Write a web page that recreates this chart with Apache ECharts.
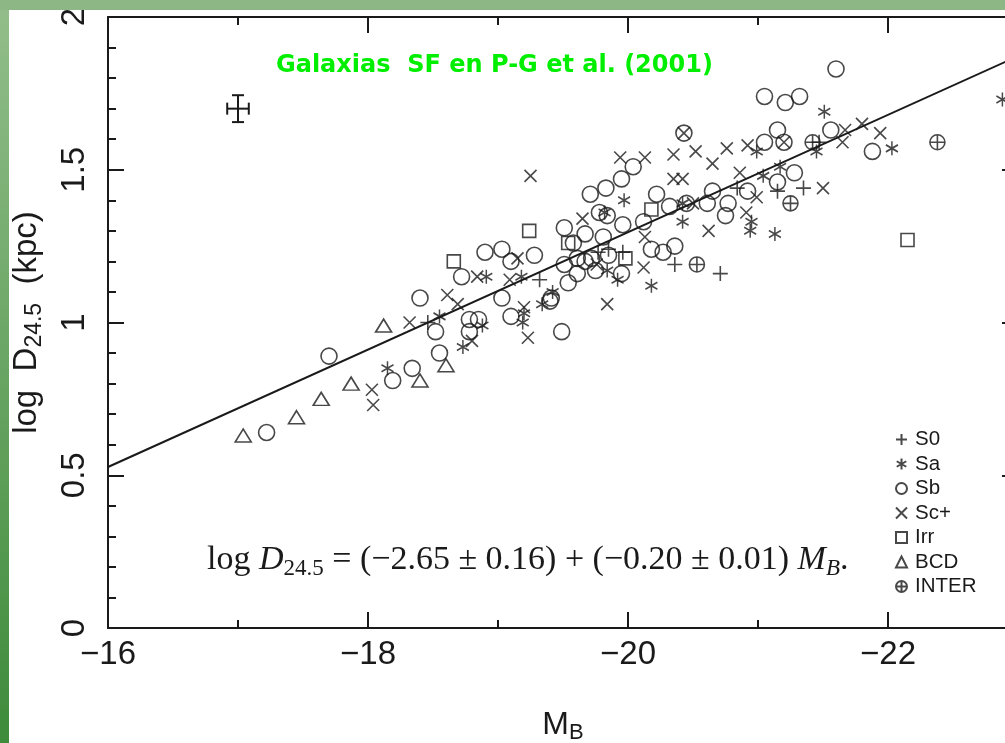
<!DOCTYPE html>
<html>
<head>
<meta charset="utf-8">
<script src="https://cdn.jsdelivr.net/npm/echarts@6/dist/echarts.min.js"></script>
<style>
  html, body { margin: 0; padding: 0; background: #fff; }
  #main { width: 1005px; height: 743px; }
</style>
</head>
<body>
<div id="main"></div>
<script>
// data: [M_B, log D24.5]
const S0 = [[-18.46,1.00],[-19.32,1.14],[-19.77,1.23],[-19.85,1.24],[-19.96,1.23],[-20.36,1.19],
  [-20.71,1.16],[-21.15,1.43],[-21.35,1.44],[-21.47,1.59],[-20.84,1.44]];
const Sa = [[-18.15,0.85],[-18.55,1.02],[-18.73,0.92],[-18.91,1.15],[-18.88,0.99],[-19.18,1.15],
  [-19.20,1.03],[-19.19,1.00],[-19.34,1.06],[-19.42,1.10],[-19.97,1.40],[-19.82,1.36],[-20.42,1.39],
  [-20.42,1.33],[-20.18,1.12],[-19.92,1.14],[-19.84,1.17],[-20.99,1.56],[-21.04,1.48],[-21.17,1.51],
  [-20.95,1.33],[-20.94,1.30],[-21.13,1.29],[-21.51,1.69],[-21.45,1.56],[-22.03,1.57],[-22.88,1.73]];
const Sb = [[-17.22,0.64],[-17.70,0.89],[-18.19,0.81],[-18.34,0.85],[-18.52,0.97],[-18.55,0.90],
  [-18.40,1.08],[-18.72,1.15],[-18.90,1.23],[-19.03,1.24],[-19.28,1.22],[-19.10,1.20],[-19.03,1.08],
  [-18.78,1.01],[-18.85,1.01],[-18.78,0.97],[-19.10,1.02],[-19.41,1.08],[-19.49,0.97],[-19.54,1.13],
  [-19.51,1.19],[-19.51,1.31],[-19.58,1.26],[-19.67,1.29],[-19.71,1.42],[-19.83,1.44],[-19.95,1.47],
  [-20.04,1.51],[-20.43,1.62],[-20.22,1.42],[-20.32,1.38],[-19.78,1.36],[-19.84,1.35],[-19.96,1.32],
  [-20.12,1.33],[-19.81,1.28],[-19.61,1.21],[-19.67,1.20],[-19.72,1.21],[-19.85,1.22],[-20.18,1.24],
  [-20.27,1.23],[-20.36,1.25],[-19.95,1.16],[-19.61,1.16],[-19.75,1.17],[-19.40,1.07],[-21.60,1.83],
  [-21.05,1.74],[-21.21,1.72],[-21.32,1.74],[-21.15,1.63],[-21.20,1.59],[-21.05,1.59],[-21.56,1.63],
  [-21.28,1.49],[-21.15,1.46],[-20.92,1.43],[-20.65,1.43],[-20.75,1.35],[-20.77,1.39],[-20.61,1.39],
  [-21.88,1.56],[-20.45,1.39]];
const ScPlus = [[-18.32,1.00],[-18.03,0.78],[-18.04,0.73],[-19.25,1.48],[-18.84,1.15],[-19.15,1.21],
  [-19.09,1.14],[-18.61,1.09],[-18.69,1.06],[-18.80,0.94],[-19.20,1.05],[-19.23,0.95],[-19.65,1.34],
  [-19.94,1.54],[-20.13,1.54],[-20.35,1.55],[-20.52,1.56],[-20.35,1.47],[-20.42,1.47],[-20.43,1.62],
  [-20.13,1.28],[-20.12,1.18],[-19.84,1.06],[-21.20,1.59],[-20.92,1.58],[-20.76,1.57],[-20.65,1.52],
  [-20.86,1.49],[-21.50,1.44],[-20.99,1.41],[-20.62,1.30],[-20.91,1.36],[-20.50,1.39],[-21.67,1.63],
  [-21.65,1.59],[-21.80,1.65],[-21.94,1.62],[-19.76,1.19]];
const Irr = [[-19.24,1.30],[-18.66,1.20],[-19.54,1.26],[-19.98,1.21],[-20.18,1.37],[-22.15,1.27]];
const BCD = [[-17.04,0.63],[-17.45,0.69],[-17.64,0.75],[-17.87,0.80],[-18.12,0.99],[-18.40,0.81],[-18.60,0.86]];
const INTER = [[-20.53,1.19],[-21.25,1.39],[-21.42,1.59],[-22.38,1.59]];

// fitted line ends and the typical error bar [M, logD, dM, dlogD]
const fitLine = [[-16,0.527],[-23,1.872]];
const errBar = [[-17.0,1.70,0.083,0.044]];

const xMajor = [-16,-18,-20,-22];
const xMinor = [-17,-19,-21];

const ink = '#1a1a1a';
const sans = 'Liberation Sans, Arial, sans-serif';
const serif = 'Liberation Serif, serif';

const symPlus = 'path://M0,5L10,5M5,0L5,10';
const symCross = 'path://M0,0L10,10M10,0L0,10';
const symStar = 'path://M5,0L5,10M0.67,2.5L9.33,7.5M0.67,7.5L9.33,2.5';
const symOplus = 'path://M0,5A5,5 0 1,1 10,5A5,5 0 1,1 0,5ZM0,5L10,5M5,0L5,10';

function pts(name, data, symbol, size) {
  return {
    name: name,
    type: 'scatter',
    data: data,
    symbol: symbol,
    symbolSize: size,
    itemStyle: { color: 'rgba(0,0,0,0)', borderColor: ink, borderWidth: 1.6 },
    emphasis: { disabled: true },
    z: 3
  };
}

function xAx(pos, vals, len, label, line) {
  return {
    type: 'value', position: pos, min: -23, max: -16, inverse: true,
    axisLine: { show: line, onZero: false, lineStyle: { color: ink, width: 2 } },
    axisTick: { show: true, inside: true, length: len, customValues: vals, lineStyle: { color: ink, width: 2 } },
    axisLabel: label ? {
      show: true, customValues: vals, margin: 10, color: ink, fontSize: 33, fontFamily: sans,
      formatter: function (v) { return String(v).replace('-', '\u2212'); }
    } : { show: false },
    splitLine: { show: false }
  };
}

var chart = echarts.init(document.getElementById('main'));
var option = {
  backgroundColor: '#fff',
  animation: false,
  grid: { left: 108, top: 17, right: -13, bottom: 115, containLabel: false, outerBoundsMode: 'none' },
  title: [
    {
      text: 'Galaxias  SF en P-G et al. (2001)',
      left: 271, top: 49,
      textStyle: { color: '#00ee00', fontSize: 24, fontWeight: 'bold', fontFamily: 'DejaVu Sans' }
    },
    {
      text: '{n|log }{i|D}{s|24.5}{n| = (\u22122.65 \u00b1 0.16) + (\u22120.20 \u00b1 0.01) }{i|M}{si|B}{n|.}',
      left: 202, top: 536,
      textStyle: {
        fontWeight: 'normal',
        rich: {
          n: { fontSize: 34, fontFamily: serif, fontWeight: 'normal', color: ink },
          i: { fontSize: 34, fontFamily: serif, fontWeight: 'normal', fontStyle: 'italic', color: ink },
          s: { fontSize: 23, fontFamily: serif, fontWeight: 'normal', color: ink, padding: [16, 0, 0, 0] },
          si: { fontSize: 23, fontFamily: serif, fontWeight: 'normal', fontStyle: 'italic', color: ink, padding: [16, 0, 0, 0] }
        }
      }
    }
  ],
  legend: {
    orient: 'vertical', left: 895, top: 429, padding: 0,
    itemWidth: 11, itemHeight: 11, itemGap: 3.5,
    data: ['S0', 'Sa', 'Sb', 'Sc+', 'Irr', 'BCD', 'INTER'],
    textStyle: { color: ink, fontSize: 20.5, fontFamily: sans, lineHeight: 19, padding: [0, 0, 0, 3] }
  },
  xAxis: [
    Object.assign(xAx('bottom', xMajor, 16, true, true), {
      name: '{a|M}{s|B}', nameLocation: 'middle', nameGap: 78,
      nameTextStyle: { rich: {
        a: { fontSize: 32, fontFamily: sans, color: ink },
        s: { fontSize: 22, fontFamily: sans, color: ink, padding: [16, 0, 0, 0] }
      } }
    }),
    xAx('bottom', xMinor, 8, false, false),
    xAx('top', xMajor, 16, false, true),
    xAx('top', xMinor, 8, false, false)
  ],
  yAxis: [
    {
      type: 'value', position: 'left', min: 0, max: 2, interval: 0.5,
      axisLine: { show: true, lineStyle: { color: ink, width: 2 } },
      axisTick: { show: true, inside: true, length: 16, lineStyle: { color: ink, width: 2 } },
      minorTick: { show: true, splitNumber: 5, length: 8, lineStyle: { color: ink, width: 2 } },
      axisLabel: { rotate: 90, margin: 17, color: ink, fontSize: 33, fontFamily: sans },
      splitLine: { show: false },
      name: '{a|log  D}{s|24.5}{a|  (kpc)}', nameLocation: 'middle', nameGap: 62, nameRotate: 90,
      nameTextStyle: { rich: {
        a: { fontSize: 33, fontFamily: sans, color: ink },
        s: { fontSize: 23, fontFamily: sans, color: ink, padding: [16, 0, 0, 0] }
      } }
    },
    {
      type: 'value', position: 'right', min: 0, max: 2, interval: 0.5,
      axisLine: { show: true, lineStyle: { color: ink, width: 2 } },
      axisTick: { show: true, inside: true, length: 16, lineStyle: { color: ink, width: 2 } },
      minorTick: { show: true, splitNumber: 5, length: 8, lineStyle: { color: ink, width: 2 } },
      axisLabel: { show: false },
      splitLine: { show: false }
    }
  ],
  series: [
    {
      type: 'line', data: fitLine, symbol: 'none', silent: true,
      lineStyle: { color: ink, width: 2 }, z: 2
    },
    {
      type: 'custom', data: errBar, silent: true,
      renderItem: function (params, api) {
        var x = api.value(0), y = api.value(1), dx = api.value(2), dy = api.value(3);
        var l = api.coord([x - dx, y]), r = api.coord([x + dx, y]);
        var t = api.coord([x, y + dy]), b = api.coord([x, y - dy]);
        var cap = 6;
        var st = { stroke: ink, lineWidth: 2 };
        function seg(x1, y1, x2, y2) {
          return { type: 'line', shape: { x1: x1, y1: y1, x2: x2, y2: y2 }, style: st };
        }
        return { type: 'group', children: [
          seg(l[0], l[1], r[0], r[1]),
          seg(t[0], t[1], b[0], b[1]),
          seg(l[0], l[1] - cap, l[0], l[1] + cap),
          seg(r[0], r[1] - cap, r[0], r[1] + cap),
          seg(t[0] - cap, t[1], t[0] + cap, t[1]),
          seg(b[0] - cap, b[1], b[0] + cap, b[1])
        ] };
      }
    },
    pts('S0', S0, symPlus, 15),
    pts('Sa', Sa, symStar, [12, 14]),
    pts('Sb', Sb, 'circle', 16),
    pts('Sc+', ScPlus, symCross, 12),
    pts('Irr', Irr, 'rect', 13),
    pts('BCD', BCD, 'triangle', [16, 13]),
    pts('INTER', INTER, symOplus, 15)
  ],
  graphic: [
    {
      type: 'rect', left: 0, top: 0, z: 100,
      shape: { width: 9, height: 743 },
      style: { fill: new echarts.graphic.LinearGradient(0, 0, 0, 1, [
        { offset: 0, color: '#93be8b' }, { offset: 1, color: '#3e8b3b' }
      ]) }
    },
    {
      type: 'rect', left: 0, top: 0, z: 100,
      shape: { width: 1005, height: 10 },
      style: { fill: '#8db885' }
    }
  ]
};
chart.setOption(option);
window.addEventListener('resize', chart.resize);
</script>
</body>
</html>
